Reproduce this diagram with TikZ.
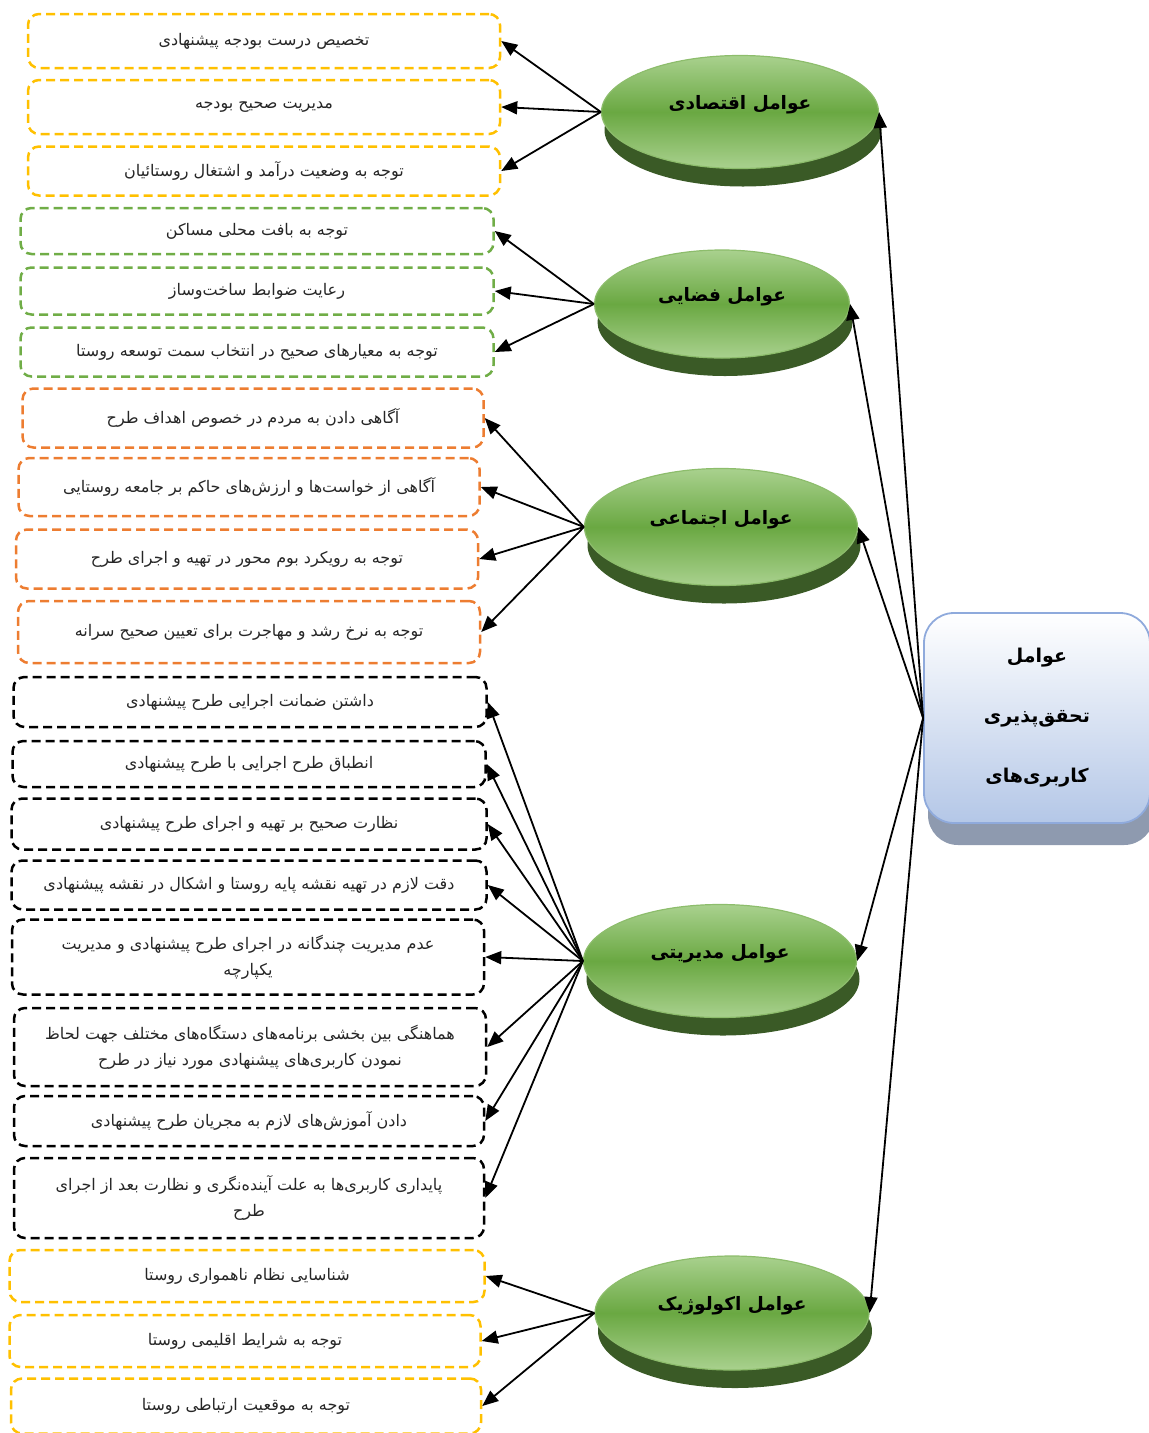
\documentclass[tikz,border=0pt]{standalone}
\usepackage{fontspec}
\usepackage{xcolor}
\usepackage{tikz}
\usetikzlibrary{positioning}
\usetikzlibrary{shapes.geometric}
\usetikzlibrary{shadows}
\usetikzlibrary{arrows.meta}
\newfontfamily\arabicfont[Script=Arabic]{DejaVu Sans}
\TeXXeTstate=1
\newcommand{\fatext}[1]{\beginR #1\endR}
\definecolor{ecoyellow}{HTML}{FFC000}
\definecolor{spagreen}{HTML}{70AD47}
\definecolor{socorange}{HTML}{ED7D31}
\definecolor{disclight}{HTML}{A9D18E}
\definecolor{discmid}{HTML}{6AA842}
\definecolor{discdark}{HTML}{3A5A26}
\definecolor{hubblue}{HTML}{B4C7E7}
\definecolor{hubedge}{HTML}{8FAADC}
\definecolor{hubshadow}{HTML}{8E9AAF}
\tikzset{
    item/.style={draw=#1, dash pattern=on 9pt off 5pt, line width=2.5pt, rounded corners=11pt,
        inner sep=0pt, align=center, text=black!85, font=\arabicfont\fontsize{16}{26}\selectfont},
    factor/.style={ellipse, draw=spagreen!80!white, line width=1.2pt, inner sep=0pt,
        top color=disclight, bottom color=disclight, middle color=discmid,
        text height=12pt, text depth=18pt,
        font=\arabicfont\bfseries\fontsize{18.5}{20}\selectfont,
        drop shadow={shadow xshift=3pt, shadow yshift=-18pt, fill=discdark, opacity=1}},
    hub/.style={rectangle, rounded corners=30pt, draw=hubedge, line width=1.8pt,
        top color=white, bottom color=hubblue, align=center,
        font=\arabicfont\bfseries\fontsize{19}{60}\selectfont,
        drop shadow={shadow xshift=4pt, shadow yshift=-22pt, fill=hubshadow, opacity=1}},
    link/.style={-{Triangle[length=16pt,width=13pt]}, line width=1.8pt},
}
\begin{document}
\begin{tikzpicture}[x=1pt,y=-1pt]
\useasboundingbox (0,0) rectangle (1149,1433);

% factors
\node[factor, minimum width=277pt, minimum height=113pt] (econ) at (740,112) {\fatext{عوامل اقتصادی}};
\node[factor, minimum width=255pt, minimum height=108pt] (spat) at (722,304) {\fatext{عوامل فضایی}};
\node[factor, minimum width=273pt, minimum height=117pt] (soc) at (721,527) {\fatext{عوامل اجتماعی}};
\node[factor, minimum width=273pt, minimum height=113pt] (mgmt) at (720,961) {\fatext{عوامل مدیریتی}};
\node[factor, minimum width=274pt, minimum height=114pt] (eco) at (732,1313) {\fatext{عوامل اکولوژیک}};

\node[hub, minimum width=226pt, minimum height=210pt] (hub) at (1037,718)
    {\fatext{عوامل}\\\fatext{تحقق‌پذیری}\\\fatext{کاربری‌های}};

% economic
\node[item=ecoyellow, minimum width=472pt, minimum height=54pt] (ec1) at (264,41) {\fatext{تخصیص درست بودجه پیشنهادی}};
\node[item=ecoyellow, minimum width=472pt, minimum height=54pt] (ec2) at (264,107) {\fatext{مدیریت صحیح بودجه}};
\node[item=ecoyellow, minimum width=472pt, minimum height=49pt] (ec3) at (264,171) {\fatext{توجه به وضعیت درآمد و اشتغال روستائیان}};
% spatial
\node[item=spagreen, minimum width=473pt, minimum height=46pt] (sp1) at (257,231) {\fatext{توجه به بافت محلی مساکن}};
\node[item=spagreen, minimum width=473pt, minimum height=47pt] (sp2) at (257,291) {\fatext{رعایت ضوابط ساخت‌وساز}};
\node[item=spagreen, minimum width=473pt, minimum height=49pt] (sp3) at (257,352) {\fatext{توجه به معیارهای صحیح در انتخاب سمت توسعه روستا}};
% social
\node[item=socorange, minimum width=461pt, minimum height=59pt] (so1) at (253,418) {\fatext{آگاهی دادن به مردم در خصوص اهداف طرح}};
\node[item=socorange, minimum width=461pt, minimum height=58pt] (so2) at (249,487) {\fatext{آگاهی از خواست‌ها و ارزش‌های حاکم بر جامعه روستایی}};
\node[item=socorange, minimum width=462pt, minimum height=59pt] (so3) at (247,559) {\fatext{توجه به رویکرد بوم محور در تهیه و اجرای طرح}};
\node[item=socorange, minimum width=462pt, minimum height=62pt] (so4) at (249,632) {\fatext{توجه به نرخ رشد و مهاجرت برای تعیین صحیح سرانه}};
% management
\node[item=black, minimum width=473pt, minimum height=50pt] (mg1) at (250,702) {\fatext{داشتن ضمانت اجرایی طرح پیشنهادی}};
\node[item=black, minimum width=473pt, minimum height=46pt] (mg2) at (249,764) {\fatext{انطباق طرح اجرایی با طرح پیشنهادی}};
\node[item=black, minimum width=475pt, minimum height=51pt] (mg3) at (249,824) {\fatext{نظارت صحیح بر تهیه و اجرای طرح پیشنهادی}};
\node[item=black, minimum width=475pt, minimum height=49pt] (mg4) at (249,885) {\fatext{دقت لازم در تهیه نقشه پایه روستا و اشکال در نقشه پیشنهادی}};
\node[item=black, minimum width=472pt, minimum height=75pt] (mg5) at (248,957) {\fatext{عدم مدیریت چندگانه در اجرای طرح پیشنهادی و مدیریت}\\\fatext{یکپارچه}};
\node[item=black, minimum width=472pt, minimum height=78pt] (mg6) at (250,1047) {\fatext{هماهنگی بین بخشی برنامه‌های دستگاه‌های مختلف جهت لحاظ}\\\fatext{نمودن کاربری‌های پیشنهادی مورد نیاز در طرح}};
\node[item=black, minimum width=470pt, minimum height=50pt] (mg7) at (249,1121) {\fatext{دادن آموزش‌های لازم به مجریان طرح پیشنهادی}};
\node[item=black, minimum width=470pt, minimum height=80pt] (mg8) at (249,1198) {\fatext{پایداری کاربری‌ها به علت آینده‌نگری و نظارت بعد از اجرای}\\\fatext{طرح}};
% ecological
\node[item=ecoyellow, minimum width=475pt, minimum height=52pt] (ep1) at (247,1276) {\fatext{شناسایی نظام ناهمواری روستا}};
\node[item=ecoyellow, minimum width=471pt, minimum height=52pt] (ep2) at (245,1341) {\fatext{توجه به شرایط اقلیمی روستا}};
\node[item=ecoyellow, minimum width=470pt, minimum height=55pt] (ep3) at (246,1406) {\fatext{توجه به موقعیت ارتباطی روستا}};

\path[link]
    (hub.west) edge (econ.east)
    (hub.west) edge (spat.east)
    (hub.west) edge (soc.east)
    (hub.west) edge (mgmt.east)
    (hub.west) edge (eco.east)
    (econ.west) edge (ec1.east) edge (ec2.east) edge (ec3.east)
    (spat.west) edge (sp1.east) edge (sp2.east) edge (sp3.east)
    (soc.west) edge (so1.east) edge (so2.east) edge (so3.east) edge (so4.east)
    (mgmt.west) edge (mg1.east) edge (mg2.east) edge (mg3.east) edge (mg4.east)
        edge (mg5.east) edge (mg6.east) edge (mg7.east) edge (mg8.east)
    (eco.west) edge (ep1.east) edge (ep2.east) edge (ep3.east)
;
\end{tikzpicture}
\end{document}
